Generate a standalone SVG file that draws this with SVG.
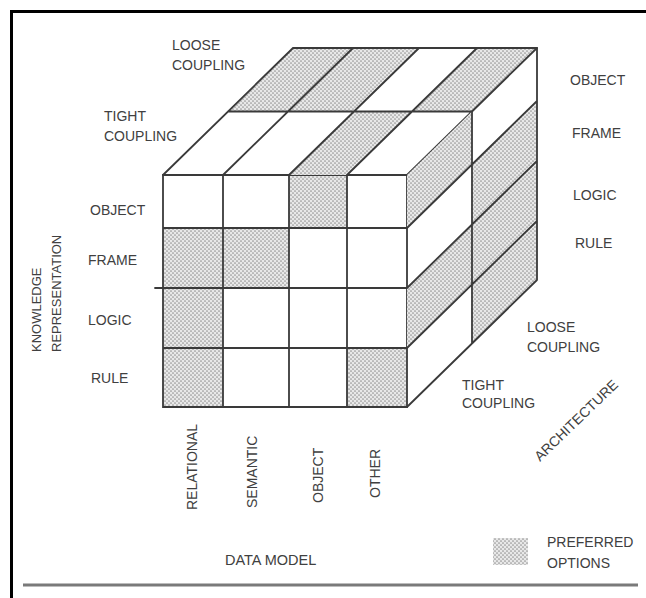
<svg xmlns="http://www.w3.org/2000/svg" width="646" height="598" viewBox="0 0 646 598">
<defs>
<pattern id="dots" width="4" height="4" patternUnits="userSpaceOnUse">
<rect width="4" height="4" fill="#e8e8e8"/>
<circle cx="1" cy="1" r="0.85" fill="#959595"/>
<circle cx="3" cy="3" r="0.85" fill="#959595"/>
</pattern>
</defs>
<style>
.bg{fill:#fff}
.sh{fill:url(#dots);stroke:none}
.ln{stroke:#3a3a3a;stroke-width:1.8;fill:none;stroke-linecap:round}
.t{font-family:"Liberation Sans",Arial,sans-serif;font-size:14px;fill:#404040}
.frame{stroke:#000;stroke-width:3;fill:none}
</style>
<rect width="646" height="598" class="bg"/>
<g id="frame">
<line x1="10" y1="11.5" x2="646" y2="11.5" class="frame"/>
<line x1="11.5" y1="10" x2="11.5" y2="598" class="frame"/>
<line x1="23" y1="585" x2="638" y2="585" stroke="#7a7a7a" stroke-width="3"/>
</g>
<g id="front-face">
<rect x="289" y="175" width="58" height="53" class="sh"/>
<rect x="163" y="228" width="60" height="60" class="sh"/>
<rect x="223" y="228" width="66" height="60" class="sh"/>
<rect x="163" y="288" width="60" height="60" class="sh"/>
<rect x="163" y="348" width="60" height="59" class="sh"/>
<rect x="347" y="348" width="60" height="59" class="sh"/>
<path class="ln" d="M163 175H407V407H163Z M223 175V407 M289 175V407 M347 175V407 M163 228H407 M155 288H407 M163 348H407"/>
</g>
<g id="top-face">
<polygon class="sh" points="289,175 347,175 412,111.5 354,111.5"/>
<polygon class="sh" points="228,111.5 288,111.5 353,48 293,48"/>
<polygon class="sh" points="288,111.5 354,111.5 419,48 353,48"/>
<polygon class="sh" points="412,111.5 472,111.5 537,48 477,48"/>
<path class="ln" d="M163 175L293 48H537 M223 175L353 48 M289 175L419 48 M347 175L477 48 M407 175L537 48 M228 111.5H472"/>
</g>
<g id="right-face">
<polygon class="sh" points="407,175 472,111.5 472,164.5 407,228"/>
<polygon class="sh" points="407,288 472,224.5 472,284.5 407,348"/>
<polygon class="sh" points="472,164.5 537,101 537,161 472,224.5"/>
<polygon class="sh" points="472,224.5 537,161 537,221 472,284.5"/>
<polygon class="sh" points="472,284.5 537,221 537,280 472,343.5"/>
<path class="ln" d="M537 48V280 M472 111.5V343.5 M407 228L537 101 M407 288L537 161 M407 348L537 221 M407 407L537 280"/>
</g>
<g id="labels-architecture-top">
<text class="t" x="172" y="50">LOOSE</text>
<text class="t" x="172" y="70">COUPLING</text>
<text class="t" x="104" y="121">TIGHT</text>
<text class="t" x="104" y="141">COUPLING</text>
</g>
<g id="labels-knowledge-left">
<text class="t" x="90" y="215">OBJECT</text>
<text class="t" x="88" y="265">FRAME</text>
<text class="t" x="88" y="325">LOGIC</text>
<text class="t" x="91" y="383">RULE</text>
<text class="t" style="font-size:13px" transform="translate(41,352) rotate(-90)">KNOWLEDGE</text>
<text class="t" style="font-size:13px" transform="translate(61,352) rotate(-90)">REPRESENTATION</text>
</g>
<g id="labels-knowledge-right">
<text class="t" x="570" y="85">OBJECT</text>
<text class="t" x="572" y="138">FRAME</text>
<text class="t" x="573" y="200">LOGIC</text>
<text class="t" x="575" y="248">RULE</text>
</g>
<g id="labels-architecture-right">
<text class="t" x="527" y="332">LOOSE</text>
<text class="t" x="527" y="352">COUPLING</text>
<text class="t" x="462" y="390">TIGHT</text>
<text class="t" x="462" y="408">COUPLING</text>
<text class="t" transform="translate(540,462) rotate(-44)">ARCHITECTURE</text>
</g>
<g id="labels-data-model">
<text class="t" transform="translate(197,510) rotate(-90)">RELATIONAL</text>
<text class="t" transform="translate(257,508) rotate(-90)">SEMANTIC</text>
<text class="t" transform="translate(323,503) rotate(-90)">OBJECT</text>
<text class="t" transform="translate(380,498) rotate(-90)">OTHER</text>
<text class="t" style="font-size:14.5px" x="225" y="565">DATA MODEL</text>
</g>
<g id="legend">
<rect x="493" y="538" width="35" height="27" class="sh" stroke="#aaa" stroke-width="0.6"/>
<text class="t" x="547" y="547">PREFERRED</text>
<text class="t" x="547" y="568">OPTIONS</text>
</g>
</svg>
